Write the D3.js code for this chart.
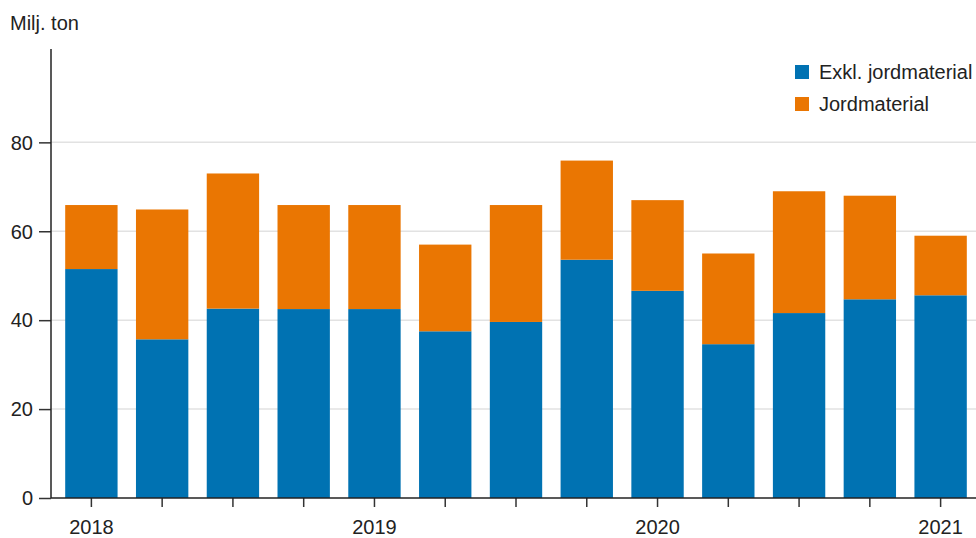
<!DOCTYPE html>
<html>
<head>
<meta charset="utf-8">
<script src="https://cdn.jsdelivr.net/npm/d3@7"></script>
<style>
  html, body { margin: 0; padding: 0; background: #fff; }
  svg { display: block; font-family: "Liberation Sans", Arial, sans-serif; }
</style>
</head>
<body>
<svg id="chart" width="976" height="538"></svg>
<script>
// Data
const categories = ["2018K1","2018K2","2018K3","2018K4","2019K1","2019K2","2019K3","2019K4","2020K1","2020K2","2020K3","2020K4","2021K1"];
const tickLabels = ["2018","","","","2019","","","","2020","","","","2021"];
const exklJord = [51.5, 35.7, 42.6, 42.5, 42.5, 37.5, 39.6, 53.6, 46.6, 34.6, 41.6, 44.7, 45.6];
const jord     = [14.4, 29.2, 30.4, 23.4, 23.4, 19.5, 26.3, 22.3, 20.4, 20.4, 27.4, 23.3, 13.4];
const seriesNames = ["Exkl. jordmaterial", "Jordmaterial"];
const yTicks = [0, 20, 40, 60, 80];

const colors = ["#0072b2", "#ea7602"];

const svg = d3.select("#chart");
const axisX = 51, plotRight = 976, plotTop = 49, plotBottom = 498;

const x = d3.scaleBand().domain(categories).range([56, 976]).paddingInner(0.26).paddingOuter(0.13);
const y = d3.scaleLinear().domain([0, 101]).range([plotBottom, plotTop]);

const table = categories.map((c, i) => ({ cat: c, s0: exklJord[i], s1: jord[i] }));
const stack = d3.stack().keys(["s0", "s1"]);
const layers = stack(table);

// gridlines
svg.append("g").selectAll("line").data(yTicks.filter(d => d > 0)).join("line")
  .attr("x1", axisX).attr("x2", plotRight)
  .attr("y1", d => y(d)).attr("y2", d => y(d))
  .attr("stroke", "#e2e2e2").attr("stroke-width", 1.5);

// bars
svg.append("g").selectAll("g").data(layers).join("g")
  .attr("fill", (d, i) => colors[i])
  .selectAll("rect").data(d => d).join("rect")
  .attr("x", d => x(d.data.cat))
  .attr("width", x.bandwidth())
  .attr("y", d => y(d[1]))
  .attr("height", d => y(d[0]) - y(d[1]));

// y axis
const yAxis = d3.axisLeft(y).tickValues(yTicks).tickSize(12).tickPadding(6).tickFormat(d3.format("d"));
const gy = svg.append("g").attr("transform", `translate(${axisX},0)`).call(yAxis);
gy.select(".domain").remove();
gy.selectAll(".tick line").attr("stroke", "#333").attr("stroke-width", 1.5);
gy.selectAll(".tick text").attr("fill", "#222").style("font-size", "20px").attr("dy", "0.34em");
svg.append("line").attr("x1", axisX).attr("x2", axisX).attr("y1", plotTop).attr("y2", plotBottom)
  .attr("stroke", "#222").attr("stroke-width", 1.5);

// x axis
const xAxis = d3.axisBottom(x).tickSize(9).tickPadding(13).tickFormat((d, i) => tickLabels[i]);
const gx = svg.append("g").attr("transform", `translate(0,${plotBottom})`).call(xAxis);
gx.select(".domain").remove();
gx.selectAll(".tick line").attr("stroke", "#333").attr("stroke-width", 1.5);
gx.selectAll(".tick text").attr("fill", "#222").style("font-size", "20px");
svg.append("line").attr("x1", axisX).attr("x2", plotRight).attr("y1", plotBottom).attr("y2", plotBottom)
  .attr("stroke", "#222").attr("stroke-width", 1.5);

// unit label
svg.append("text").attr("x", 10).attr("y", 30).attr("fill", "#222")
  .style("font-size", "20px").text("Milj. ton");

// legend
const legend = svg.append("g").selectAll("g").data(seriesNames).join("g")
  .attr("transform", (d, i) => `translate(795,${65 + i * 32})`);
legend.append("rect").attr("width", 14).attr("height", 14).attr("fill", (d, i) => colors[i]);
legend.append("text").attr("x", 24).attr("y", 14).attr("fill", "#222")
  .style("font-size", "20px").text(d => d);
</script>
</body>
</html>
